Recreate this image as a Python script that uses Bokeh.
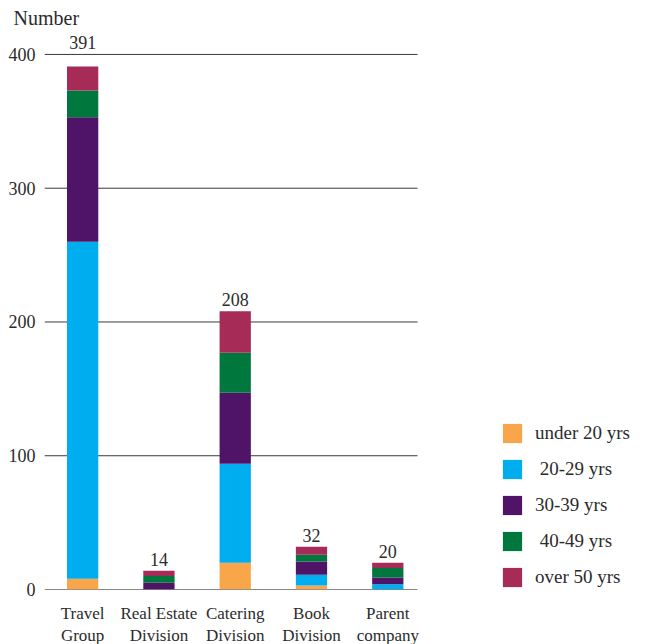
from bokeh.plotting import figure
from bokeh.models import Range1d, FixedTicker, Legend, LegendItem, ColumnDataSource
from bokeh.core.properties import value
from bokeh.embed import file_html
from bokeh.resources import INLINE

# Staff by division and age band
categories = ["Travel\nGroup", "Real Estate\nDivision", "Catering\nDivision",
              "Book\nDivision", "Parent\ncompany"]
under_20 = [8, 0, 20, 3, 0]
age_20_29 = [252, 0, 74, 8, 4]
age_30_39 = [93, 5, 53, 10, 5]
age_40_49 = [20, 5, 30, 5, 7]
over_50 = [18, 4, 31, 6, 4]
band_labels = ["under 20 yrs", " 20-29 yrs", "30-39 yrs", " 40-49 yrs", "over 50 yrs"]
band_colors = ["#F9A64A", "#00ADEE", "#4F1467", "#00773D", "#A62B56"]
y_ticks = [0, 100, 200, 300, 400]

FONT = "Liberation Serif"
TEXT = "#2b2b2b"

keys = ["u20", "a20", "a30", "a40", "o50"]
xs = list(range(len(categories)))
totals = [sum(v) for v in zip(under_20, age_20_29, age_30_39, age_40_49, over_50)]


def label_anchor(t):
    # lift a total above a gridline it would otherwise sit on
    for g in y_ticks:
        if 0 < g - t < 15:
            return g
    return t


src = ColumnDataSource(dict(x=xs, u20=under_20, a20=age_20_29, a30=age_30_39,
                            a40=age_40_49, o50=over_50,
                            label_y=[label_anchor(t) for t in totals],
                            total_text=[str(t) for t in totals]))

# the frame runs to the right edge so the legend can sit beside the bars;
# gridlines stop at GRID_END
X_START, X_END, GRID_END = -0.5, 7.47, 4.39

p = figure(frame_width=608, frame_height=559,
           min_border_left=44, min_border_right=0,
           min_border_top=30, min_border_bottom=55,
           x_range=Range1d(X_START, X_END), y_range=Range1d(0, 417.9),
           output_backend="svg", toolbar_location=None,
           title="Number")

p.title.text_font = FONT
p.title.text_font_size = "20px"
p.title.text_font_style = "normal"
p.title.text_color = TEXT
p.title.offset = -31
p.title.standoff = 4

p.outline_line_color = None
p.background_fill_color = "white"
p.border_fill_color = "white"
p.xgrid.grid_line_color = None
p.ygrid.grid_line_color = None

p.segment(x0=[X_START] * len(y_ticks), x1=[GRID_END] * len(y_ticks),
          y0=y_ticks, y1=y_ticks,
          line_color=["#111111"] + ["#3a3a3a"] * (len(y_ticks) - 1), line_width=1)

renderers = p.vbar_stack(keys, x="x", width=0.41, source=src,
                         color=band_colors, line_color=None)

p.text(x="x", y="label_y", text="total_text", source=src,
       text_align="center", text_baseline="bottom", y_offset=-5,
       text_font=value(FONT), text_font_size="18px", text_color=TEXT)

# axes
p.yaxis.ticker = FixedTicker(ticks=y_ticks)
p.yaxis.axis_line_color = None
p.yaxis.major_tick_line_color = None
p.yaxis.minor_tick_line_color = None
p.yaxis.major_label_standoff = 3
p.yaxis.major_label_text_font = FONT
p.yaxis.major_label_text_font_size = "18px"
p.yaxis.major_label_text_color = TEXT

p.xaxis.ticker = FixedTicker(ticks=xs)
p.xaxis.major_label_overrides = {i: c for i, c in enumerate(categories)}
p.xaxis.axis_line_color = None
p.xaxis.major_tick_line_color = None
p.xaxis.minor_tick_line_color = None
p.xaxis.major_label_standoff = 8
p.xaxis.major_label_text_font = FONT
p.xaxis.major_label_text_font_size = "17px"
p.xaxis.major_label_text_color = TEXT

legend = Legend(items=[LegendItem(label=l, renderers=[r])
                       for l, r in zip(band_labels, renderers)],
                location=(456, 0), padding=0, margin=0,
                glyph_width=24, glyph_height=24, label_height=24,
                spacing=12, label_standoff=11,
                label_text_font=FONT, label_text_font_size="19px",
                label_text_color=TEXT,
                border_line_color=None, background_fill_alpha=0)
p.add_layout(legend, "center")

open("out.html", "w").write(file_html(p, INLINE))
